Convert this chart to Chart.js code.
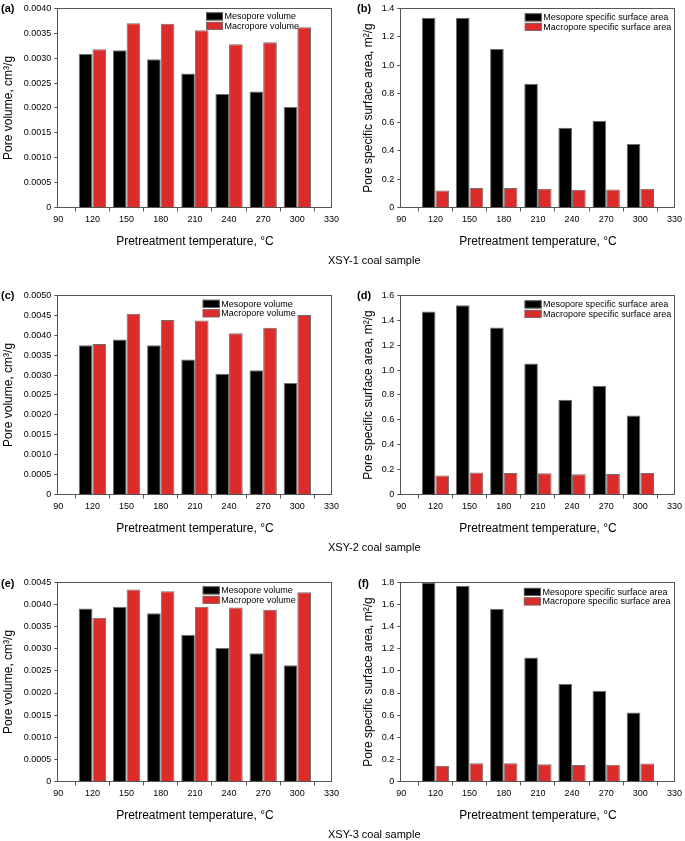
<!DOCTYPE html>
<html><head><meta charset="utf-8">
<script src="https://cdn.jsdelivr.net/npm/chart.js@4.4.1/dist/chart.umd.min.js"></script>
<style>
body{margin:0;background:#fff;width:685px;height:841px;position:relative;overflow:hidden;font-family:'Liberation Sans',Arial,sans-serif;color:#000;}
canvas{position:absolute;}
.lbl{position:absolute;font-weight:bold;font-size:11px;line-height:12px;}
.cap{position:absolute;font-size:11px;line-height:12px;white-space:nowrap;}
</style></head><body>
<canvas id="ca" width="342" height="255" style="left:0;top:0"></canvas>
<canvas id="cb" width="342" height="255" style="left:343px;top:0"></canvas>
<canvas id="cc" width="342" height="255" style="left:0;top:287px"></canvas>
<canvas id="cd" width="342" height="255" style="left:343px;top:287px"></canvas>
<canvas id="ce" width="342" height="255" style="left:0;top:574px"></canvas>
<canvas id="cf" width="342" height="255" style="left:343px;top:574px"></canvas>
<div class="lbl" style="left:1px;top:2px">(a)</div>
<div class="lbl" style="left:357px;top:2px">(b)</div>
<div class="lbl" style="left:1px;top:289px">(c)</div>
<div class="lbl" style="left:357px;top:289px">(d)</div>
<div class="lbl" style="left:1px;top:577px">(e)</div>
<div class="lbl" style="left:358px;top:577px">(f)</div>
<div class="cap" style="left:328px;top:254px">XSY-1 coal sample</div>
<div class="cap" style="left:328px;top:541px">XSY-2 coal sample</div>
<div class="cap" style="left:328px;top:828px">XSY-3 coal sample</div>
<script>
// ---- data ----
const temperatures = [120, 150, 180, 210, 240, 270, 300];
const xAxisRange = [90, 330];
const xAxisStep = 30;

const mesoVolume1 = [0.00309, 0.00316, 0.00298, 0.00269, 0.00228, 0.00233, 0.00202];
const macroVolume1 = [0.00318, 0.00370, 0.00369, 0.00356, 0.00328, 0.00332, 0.00362];
const mesoArea1 = [1.335, 1.335, 1.115, 0.87, 0.56, 0.61, 0.447];
const macroArea1 = [0.120, 0.137, 0.137, 0.132, 0.125, 0.127, 0.132];

const mesoVolume2 = [0.00375, 0.00389, 0.00375, 0.00339, 0.00303, 0.00312, 0.00280];
const macroVolume2 = [0.00378, 0.00454, 0.00438, 0.00437, 0.00405, 0.00419, 0.00451];
const mesoArea2 = [1.47, 1.52, 1.343, 1.052, 0.761, 0.873, 0.635];
const macroArea2 = [0.152, 0.176, 0.173, 0.170, 0.163, 0.165, 0.173];

const mesoVolume3 = [0.00391, 0.00395, 0.00380, 0.00331, 0.00302, 0.00290, 0.00263];
const macroVolume3 = [0.00370, 0.00434, 0.00430, 0.00395, 0.00393, 0.00388, 0.00428];
const mesoArea3 = [1.80, 1.77, 1.562, 1.12, 0.882, 0.82, 0.624];
const macroArea3 = [0.143, 0.166, 0.166, 0.157, 0.149, 0.151, 0.163];

const volumeLabels = ['Mesopore volume', 'Macropore volume'];
const areaLabels = ['Mesopore specific surface area', 'Macropore specific surface area'];
const xTitle = 'Pretreatment temperature, °C';
const volumeTitle = 'Pore volume, cm³/g';
const areaTitle = 'Pore specific surface area, m²/g';

// ---- styling ----
const FONT = "'Liberation Sans', Arial, sans-serif";
const BLACK = '#000000';
const RED = '#dc2b2b';
const EDGE = '#6e6e6e';
const AXIS = '#555555';

const framePlugin = {
  id: 'frame',
  afterDatasetsDraw(chart) {
    const {ctx, chartArea: a} = chart;
    ctx.save();
    ctx.strokeStyle = AXIS;
    ctx.lineWidth = 1;
    ctx.strokeRect(Math.round(a.left) - 0.5, Math.round(a.top) + 0.5,
      Math.round(a.right) - Math.round(a.left) + 1, Math.round(a.bottom) - Math.round(a.top) - 1);
    ctx.restore();
  }
};

const legendPlugin = {
  id: 'insideLegend',
  afterDraw(chart, args, opts) {
    const {ctx, chartArea: a} = chart;
    const x0 = a.left + opts.x;
    const y0 = a.top + opts.y;
    ctx.save();
    ctx.font = '9px ' + FONT;
    ctx.textBaseline = 'middle';
    ctx.textAlign = 'left';
    chart.data.datasets.forEach((ds, i) => {
      const y = y0 + i * opts.rowH;
      ctx.fillStyle = ds.backgroundColor;
      ctx.fillRect(x0, y, 17, 8);
      ctx.strokeStyle = EDGE;
      ctx.lineWidth = 0.8;
      ctx.strokeRect(x0 + 0.4, y + 0.4, 16.2, 7.2);
      ctx.fillStyle = '#000';
      ctx.fillText(ds.label, x0 + 18.5, y + 4.3);
    });
    ctx.restore();
  }
};

function makeChart(id, meso, macro, labels, yMax, yStep, decimals, yTitle, yTitlePad, legendX, legendY) {
  const pts = arr => temperatures.map((t, i) => ({x: t, y: arr[i]}));
  new Chart(document.getElementById(id), {
    type: 'bar',
    data: {
      datasets: [
        {label: labels[0], data: pts(meso), backgroundColor: BLACK, borderColor: EDGE, borderWidth: 1},
        {label: labels[1], data: pts(macro), backgroundColor: RED, borderColor: EDGE, borderWidth: 1}
      ]
    },
    options: {
      responsive: false,
      animation: false,
      devicePixelRatio: 1,
      layout: {padding: {top: 5, right: 8, left: 0, bottom: 0}},
      datasets: {bar: {categoryPercentage: 0.8, barPercentage: 1.0}},
      plugins: {
        legend: {display: false},
        tooltip: {enabled: false},
        insideLegend: {x: legendX, y: legendY, rowH: 9.5}
      },
      scales: {
        x: {
          type: 'linear',
          min: xAxisRange[0], max: xAxisRange[1],
          offset: false,
          border: {display: false},
          grid: {display: true, drawOnChartArea: false, drawTicks: true, tickLength: 4, color: AXIS},
          ticks: {stepSize: xAxisStep, padding: 3, color: '#000', font: {family: FONT, size: 9}, maxRotation: 0,
            callback: v => String(v)},
          title: {display: true, text: xTitle, color: '#000', font: {family: FONT, size: 12}, padding: {top: 0, bottom: 5.8}},
          afterFit: s => { s.height = 47.5; }
        },
        y: {
          min: 0, max: yMax,
          border: {display: false},
          grid: {display: true, drawOnChartArea: false, drawTicks: true, tickLength: 4, color: AXIS},
          ticks: {stepSize: yStep, padding: 3, color: '#000', font: {family: FONT, size: 9},
            callback: v => (Math.abs(v) < 1e-12 ? '0' : Number(v).toFixed(decimals))},
          title: {display: true, text: yTitle, color: '#000', font: {family: FONT, size: 12}, padding: {top: yTitlePad, bottom: 0}},
          afterFit: s => { s.width = 58.3; }
        }
      }
    },
    plugins: [framePlugin, legendPlugin]
  });
}

makeChart('ca', mesoVolume1, macroVolume1, volumeLabels, 0.004, 0.0005, 4, volumeTitle, 1.6, 147.7, 4);
makeChart('cb', mesoArea1, macroArea1, areaLabels, 1.4, 0.2, 1, areaTitle, 18, 123.5, 5);
makeChart('cc', mesoVolume2, macroVolume2, volumeLabels, 0.005, 0.0005, 4, volumeTitle, 1.2, 144.4, 4.4);
makeChart('cd', mesoArea2, macroArea2, areaLabels, 1.6, 0.2, 1, areaTitle, 18, 123.3, 5);
makeChart('ce', mesoVolume3, macroVolume3, volumeLabels, 0.0045, 0.0005, 4, volumeTitle, 1.2, 144.4, 4);
makeChart('cf', mesoArea3, macroArea3, areaLabels, 1.8, 0.2, 1, areaTitle, 18, 122.6, 5.5);
</script>
</body></html>
